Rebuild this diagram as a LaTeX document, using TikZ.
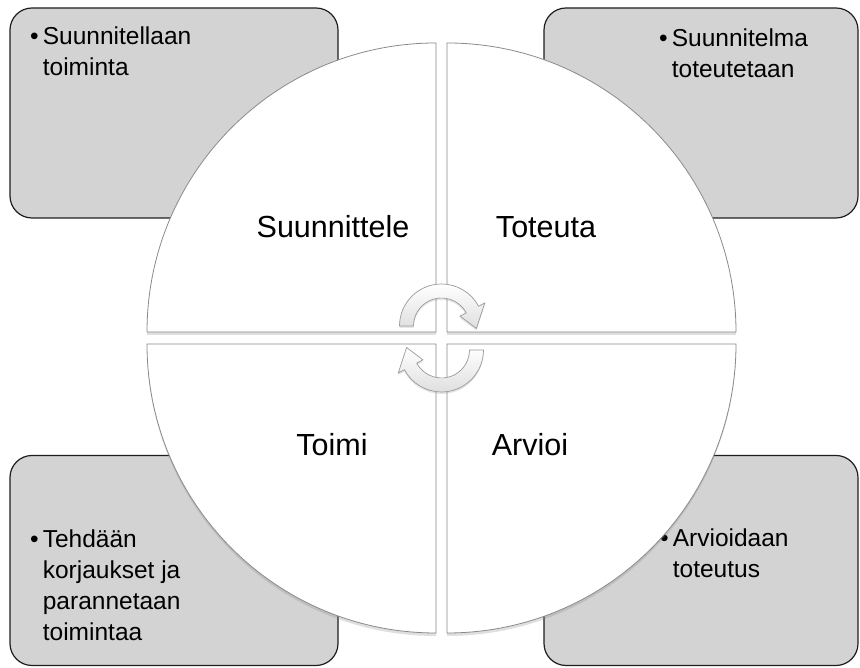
\documentclass[tikz,border=0pt]{standalone}
\usepackage{fontspec}
\setmainfont{Liberation Sans}
\definecolor{boxgray}{HTML}{D3D3D3}
\definecolor{boxline}{HTML}{1E1E1E}
\definecolor{quadline}{HTML}{8A8A8A}
\definecolor{arrowline}{HTML}{9A9A9A}
\usetikzlibrary{shadows}

\begin{document}
\begin{tikzpicture}[x=1pt, y=1pt,
  infobox/.style={draw=boxline, line width=1.2pt, fill=boxgray, rounded corners=22pt,
    minimum width=314pt, minimum height=210pt},
  bullettext/.style={anchor=base west, inner sep=0pt, font=\fontsize{24.5}{31}\selectfont},
  quadrant/.style={draw=quadline, line width=0.8pt, fill=white,
    drop shadow={shadow xshift=0pt, shadow yshift=-3pt, opacity=0.25}},
  phase/.style={anchor=base, inner sep=0pt, font=\fontsize{30.5}{36}\selectfont},
  cyclearrow/.style={draw=arrowline, line width=0.7pt, top color=white, bottom color=gray!25,
    drop shadow={shadow xshift=0pt, shadow yshift=-2pt, opacity=0.2}}]
  \useasboundingbox[fill=white] (0,0) rectangle (860,668);

  \node[infobox, minimum width=328pt] (planbox) at (174,555) {};
  \node[infobox] (dobox) at (701,555) {};
  \node[infobox, minimum width=328pt] (actbox) at (174,107.5) {};
  \node[infobox] (checkbox) at (701,107.5) {};

  \node[bullettext] (plantext) at (30,623)
    {\begin{tabular}[t]{@{}l@{\,}l@{}}\textbullet & Suunnitellaan\\ & toiminta\end{tabular}};
  \node[bullettext] (dotext) at (659,621)
    {\begin{tabular}[t]{@{}l@{\,}l@{}}\textbullet & Suunnitelma\\ & toteutetaan\end{tabular}};
  \node[bullettext] (acttext) at (30,120)
    {\begin{tabular}[t]{@{}l@{\,}l@{}}\textbullet & Tehdään\\ & korjaukset ja\\ & parannetaan\\ & toimintaa\end{tabular}};
  \node[bullettext] (checktext) at (660,121)
    {\begin{tabular}[t]{@{}l@{\,}l@{}}\textbullet & Arvioidaan\\ & toteutus\end{tabular}};

  \draw[quadrant] (436,336) -- ++(-289,0) arc[start angle=180, end angle=90, radius=289pt] -- cycle;
  \draw[quadrant] (447,336) -- ++(0,289) arc[start angle=90, end angle=0, radius=289pt] -- cycle;
  \draw[quadrant] (436,324) -- ++(0,-289) arc[start angle=270, end angle=180, radius=289pt] -- cycle;
  \draw[quadrant] (447,324) -- ++(289,0) arc[start angle=0, end angle=-90, radius=289pt] -- cycle;

  \node[phase] (plan) at (333,430) {Suunnittele};
  \node[phase] (do) at (546,430) {Toteuta};
  \node[phase] (act) at (332,212) {Toimi};
  \node[phase] (check) at (530,212) {Arvioi};

  \coordinate (ctop) at (441.5,342);
  \coordinate (cbot) at (441.5,318);
  \draw[cyclearrow] ([shift={(180:42)}]ctop) arc[start angle=180, end angle=28, radius=42pt]
    -- ([shift={(28:49)}]ctop) -- ([shift={(-4:35)}]ctop) -- ([shift={(28:21)}]ctop)
    -- ([shift={(28:28)}]ctop) arc[start angle=28, end angle=180, radius=28pt] -- cycle;
  \draw[cyclearrow] ([shift={(0:42)}]cbot) arc[start angle=360, end angle=208, radius=42pt]
    -- ([shift={(208:49)}]cbot) -- ([shift={(176:35)}]cbot) -- ([shift={(208:21)}]cbot)
    -- ([shift={(208:28)}]cbot) arc[start angle=208, end angle=360, radius=28pt] -- cycle;
\end{tikzpicture}
\end{document}
